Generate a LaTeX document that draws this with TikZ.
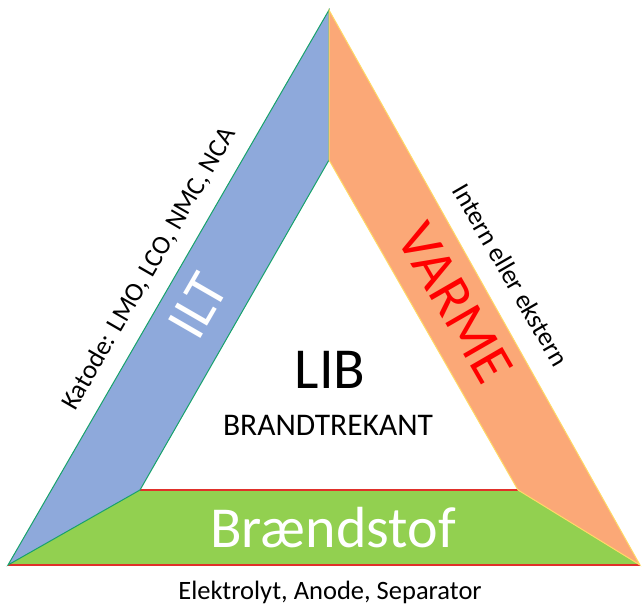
\documentclass[tikz,border=0pt]{standalone}
\usepackage{fontspec}
\setmainfont{Carlito}
\definecolor{bandblue}{HTML}{8EA9DB}
\definecolor{bandorange}{HTML}{FBA877}
\definecolor{bandgreen}{HTML}{92D050}
\definecolor{edgegreen}{HTML}{17A26B}
\definecolor{edgeyellow}{HTML}{FFD966}
\definecolor{edgered}{HTML}{E0302A}
\definecolor{varmered}{HTML}{FF0000}
\tikzset{
  bigtxt/.style={font=\fontsize{58}{64}\selectfont, inner sep=0pt},
  smalltxt/.style={font=\fontsize{26.5}{30}\selectfont, inner sep=0pt},
}
\begin{document}
\begin{tikzpicture}[x=1pt,y=-1pt]
\useasboundingbox (0,0) rectangle (643,607);
% corner coordinates
\coordinate (T) at (329,10);
\coordinate (BL) at (8,565);
\coordinate (BR) at (640,565);
\coordinate (iT) at (329,160);
\coordinate (iBL) at (140,490);
\coordinate (iBR) at (518,490);
% bands
\fill[bandgreen] (BL) -- (iBL) -- (iBR) -- (BR) -- cycle;
\draw[edgered, line width=1.2] (iBL) -- (iBR);
\draw[edgered, line width=1.2] (BL) -- (BR);
\filldraw[fill=bandblue, draw=edgegreen, line width=1] (T) -- (iT) -- (iBL) -- (BL) -- cycle;
\filldraw[fill=bandorange, draw=edgeyellow, line width=1] (T) -- (BR) -- (iBR) -- (iT) -- cycle;
% texts
\node[bigtxt, text=white, rotate=60] (ilt) at (198,306) {ILT};
\node[smalltxt, rotate=60] (katode) at (149,269) {Katode: LMO, LCO, NMC, NCA};
\node[bigtxt, text=varmered, rotate=-60] (varme) at (455,303) {VARME};
\node[smalltxt, rotate=-60] (intern) at (511,275) {Intern eller ekstern};
\node[bigtxt] (lib) at (330,370) {LIB};
\node[font=\fontsize{31.5}{35}\selectfont, inner sep=0pt] (brand) at (328,425) {BRANDTREKANT};
\node[bigtxt, text=white] (fuel) at (333,528) {Brændstof};
\node[smalltxt] (elek) at (330,592) {Elektrolyt, Anode, Separator};
\end{tikzpicture}
\end{document}
